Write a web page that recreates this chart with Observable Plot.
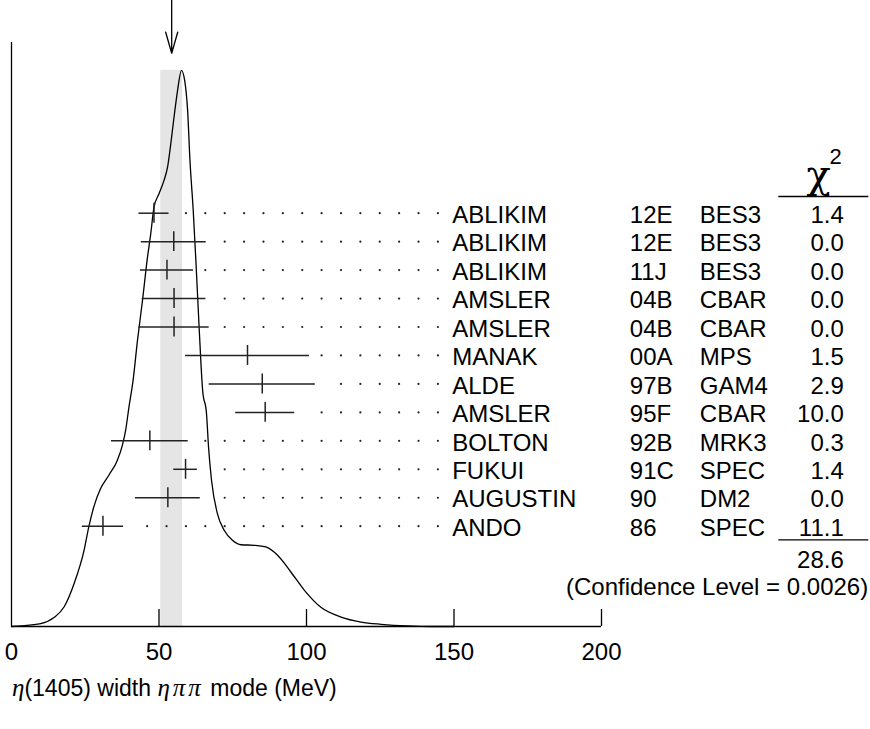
<!DOCTYPE html>
<html><head><meta charset="utf-8">
<script src="https://cdn.jsdelivr.net/npm/d3@7"></script>
<script src="https://cdn.jsdelivr.net/npm/@observablehq/plot@0.6"></script>
<style>
body{margin:0;background:#fff;}
#wrap{position:relative;width:870px;height:670px;}
#wrap svg{position:absolute;left:0;top:0;}
#title{font-family:"Liberation Sans",Arial,sans-serif;font-size:23px;margin-left:12px;line-height:36px;height:59px;color:#000;white-space:nowrap;}
#title i{font-family:"Liberation Serif",serif;font-size:25px;}
#title .m{letter-spacing:3px;}
</style></head><body>
<div id="wrap"></div>
<div id="title"><i>η</i>(1405) width <i class="m">ηππ</i> mode (MeV)</div>
<script>
// ---- data ----
const names = ["ABLIKIM","ABLIKIM","ABLIKIM","AMSLER","AMSLER","MANAK","ALDE","AMSLER","BOLTON","FUKUI","AUGUSTIN","ANDO"];
const refs = ["12E","12E","11J","04B","04B","00A","97B","95F","92B","91C","90","86"];
const exps = ["BES3","BES3","BES3","CBAR","CBAR","MPS","GAM4","CBAR","MRK3","SPEC","DM2","SPEC"];
const values = [48.3, 55.0, 52.7, 55.1, 55.1, 80.0, 85.0, 86.0, 46.9, 59.0, 53.0, 31.0];
const errors = [5.1, 11.0, 9.0, 10.8, 11.9, 21.0, 18.0, 10.0, 13.0, 4.0, 11.0, 7.0];
const chi2 = ["1.4","0.0","0.0","0.0","0.0","1.5","2.9","10.0","0.3","1.4","0.0","11.1"];
const chi2Total = "28.6";
const confidence = "(Confidence Level = 0.0026)";
const average = 54.3;
const averageError = 3.7;
const xTicks = [0, 50, 100, 150, 200];
// ideogram curve (relative density, peak = 1)
const curveX = [0, 3.1, 9.9, 14.4, 17.8, 21.2, 24.6, 26.2, 27.9, 30.2, 33.0, 35.9, 37.6, 38.7, 39.8, 41.2, 42.7, 44.4, 46.1, 47.2, 48.3, 50.0, 51.7, 52.9, 54.0, 55.1, 56.3, 57.6, 58.7, 59.7, 60.5, 61.6, 62.5, 63.6, 64.8, 66.1, 66.8, 67.8, 69.8, 72.1, 74.9, 77.8, 82.3, 86.2, 90.2, 94.7, 99.3, 105.0, 111.7, 118.5, 125.3, 134.4, 142.3, 150];
const curveY = [0, 0.001, 0.005, 0.016, 0.035, 0.077, 0.137, 0.179, 0.215, 0.248, 0.272, 0.299, 0.326, 0.353, 0.394, 0.442, 0.514, 0.586, 0.664, 0.706, 0.754, 0.778, 0.802, 0.826, 0.868, 0.916, 0.964, 1.0, 0.982, 0.928, 0.838, 0.748, 0.658, 0.538, 0.424, 0.383, 0.322, 0.263, 0.203, 0.173, 0.155, 0.147, 0.146, 0.143, 0.128, 0.098, 0.065, 0.034, 0.017, 0.008, 0.004, 0.001, 0, 0];

// ---- layout / style ----
const W = 870, H = 670;
const mL = 11, mR = 269;
const font = "Liberation Sans, Arial, Helvetica, sans-serif";
const dotStep = 6.57, dotCount = 22, dotGap = 3.5;

const curve = curveX.map((x, i) => ({x, y: curveY[i]}));
const peak = d3.max(curveY);
const rows = names.map((name, i) => ({i, name, ref: refs[i], exp: exps[i], v: values[i], e: errors[i], chi: chi2[i]}));
const dots = rows.flatMap(r => d3.range(1, dotCount + 1).map(k => k * dotStep)
  .filter(x => x > r.v + r.e + dotGap).map(x => ({i: r.i, x})));

const arrowShape = {
  draw(context, l) {
    context.moveTo(0, 0); context.lineTo(0, -l);
    context.moveTo(-6, -l + 21); context.lineTo(0, -l); context.lineTo(6, -l + 21);
  }
};

const plotA = Plot.plot({
  width: W, height: H, marginLeft: mL, marginRight: mR, marginTop: 42, marginBottom: 44,
  x: {domain: [0, 200]},
  y: {domain: [0, 1.05], axis: null},
  style: {fontFamily: font, fontSize: "24px", background: "white", overflow: "visible", color: "black"},
  marks: [
    Plot.rect([average], {x1: d => d - averageError, x2: d => d + averageError, y1: 0, y2: peak, fill: "#e5e5e5"}),
    Plot.line(curve, {x: "x", y: "y", curve: "monotone-x", stroke: "black", strokeWidth: 1.3}),
    Plot.ruleY([0], {stroke: "black", strokeWidth: 1.3}),
    Plot.ruleX([0], {stroke: "black", strokeWidth: 1.3}),
    Plot.ruleX(xTicks.slice(1), {stroke: "black", strokeWidth: 1.3, insetTop: 567}),
    Plot.axisX({ticks: xTicks, tickSize: 0, tickPadding: 16, label: null, fontSize: 24}),
    Plot.vector([average], {x: d => d, frameAnchor: "top", dy: 10.7, anchor: "end", rotate: 180, length: 53, shape: arrowShape, stroke: "black", strokeWidth: 1.3})
  ]
});

const plotB = Plot.plot({
  width: W, height: H, marginLeft: mL, marginRight: mR, marginTop: 42, marginBottom: 44,
  x: {domain: [0, 200], axis: null},
  y: {domain: [0, 11], range: [212.7, 525.7], axis: null},
  style: {fontFamily: font, fontSize: "24px", background: "transparent", overflow: "visible"},
  marks: [
    Plot.dot(dots, {x: "x", y: "i", r: 1.1, fill: "#222", stroke: null}),
    Plot.ruleY(rows, {y: "i", x1: d => d.v - d.e, x2: d => d.v + d.e, stroke: "#222", strokeWidth: 1.5}),
    Plot.ruleX(rows, {x: "v", y1: d => d.i - 0.35, y2: d => d.i + 0.35, stroke: "#222", strokeWidth: 1.5}),
    Plot.text(rows, {y: "i", text: "name", frameAnchor: "left", dx: 440.7, dy: 2, textAnchor: "start", fontSize: 24, fill: "black"}),
    Plot.text(rows, {y: "i", text: "ref", frameAnchor: "left", dx: 618.3, dy: 2, textAnchor: "start", fontSize: 24, fill: "black"}),
    Plot.text(rows, {y: "i", text: "exp", frameAnchor: "left", dx: 688.3, dy: 2, textAnchor: "start", fontSize: 24, fill: "black"}),
    Plot.text(rows, {y: "i", text: "chi", frameAnchor: "right", dx: 242.3, dy: 2, textAnchor: "end", fontSize: 24, fill: "black"}),
    // chi^2 header
    Plot.text(["χ"], {y: -0.9, frameAnchor: "right", dx: 217, textAnchor: "middle", lineAnchor: "bottom", fontSize: 40, fontFamily: "DejaVu Serif, serif", fill: "black"}),
    Plot.text(["2"], {y: -1.74, frameAnchor: "right", dx: 234, textAnchor: "middle", lineAnchor: "bottom", fontSize: 22, fill: "black"}),
    Plot.ruleY([-0.587], {insetLeft: 767.3, insetRight: -267.3, stroke: "black", strokeWidth: 1.3}),
    Plot.ruleY([11.48], {insetLeft: 767.3, insetRight: -267.3, stroke: "black", strokeWidth: 1.3}),
    Plot.text([chi2Total], {y: 12.21, frameAnchor: "right", dx: 242.3, textAnchor: "end", fontSize: 24, fill: "black"}),
    Plot.text([confidence], {y: 13.15, frameAnchor: "right", dx: 266.7, textAnchor: "end", fontSize: 24, fill: "black"})
  ]
});

const wrap = document.getElementById("wrap");
wrap.appendChild(plotA);
wrap.appendChild(plotB);
</script>
</body></html>
